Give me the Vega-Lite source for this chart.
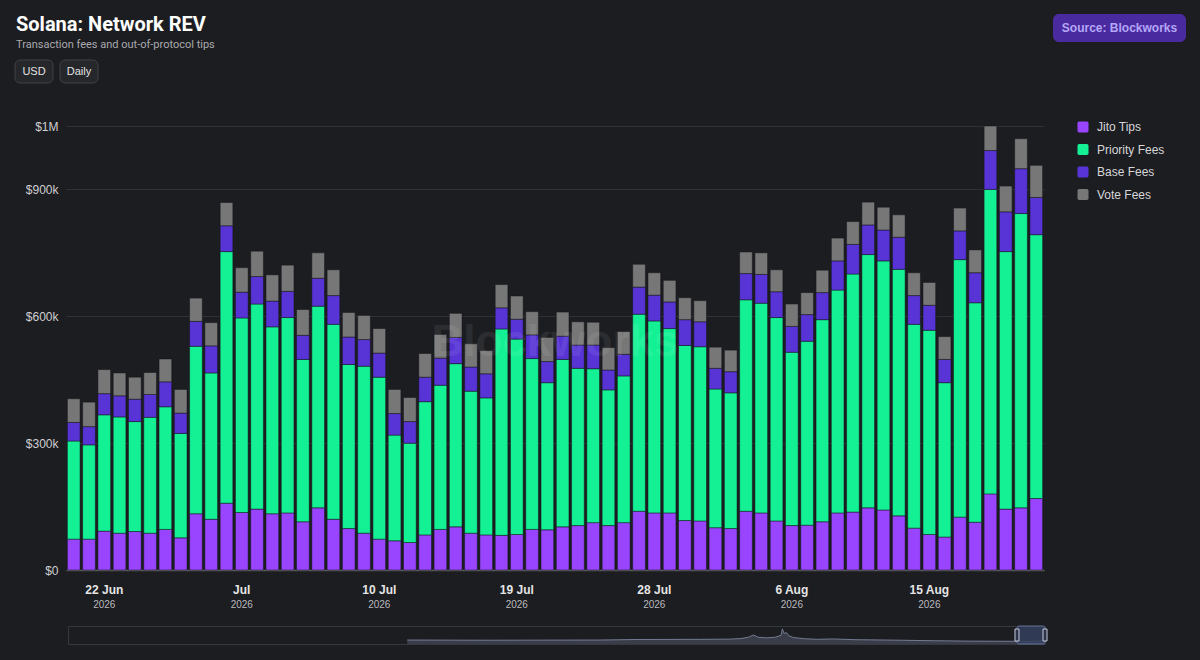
{
  "$schema": "https://vega.github.io/schema/vega-lite/v6.json",
  "background": "#1c1d21",
  "padding": {"left": 14, "top": 14, "right": 20, "bottom": 20},
  "config": {
    "font": "Liberation Sans",
    "view": {"stroke": null},
    "axis": {"labelFont": "Liberation Sans", "titleFont": "Liberation Sans"},
    "legend": {"labelFont": "Liberation Sans"}
  },
  "datasets": {
    "rev": [
      {"day": "2026-06-20", "Jito Tips": 73000, "Priority Fees": 232000, "Base Fees": 44000, "Vote Fees": 56000},
      {"day": "2026-06-21", "Jito Tips": 73000, "Priority Fees": 223000, "Base Fees": 43000, "Vote Fees": 58000},
      {"day": "2026-06-22", "Jito Tips": 92000, "Priority Fees": 275000, "Base Fees": 50000, "Vote Fees": 57000},
      {"day": "2026-06-23", "Jito Tips": 87000, "Priority Fees": 275000, "Base Fees": 50000, "Vote Fees": 54000},
      {"day": "2026-06-24", "Jito Tips": 91000, "Priority Fees": 260000, "Base Fees": 53000, "Vote Fees": 52000},
      {"day": "2026-06-25", "Jito Tips": 87000, "Priority Fees": 274000, "Base Fees": 54000, "Vote Fees": 52000},
      {"day": "2026-06-26", "Jito Tips": 96000, "Priority Fees": 290000, "Base Fees": 59000, "Vote Fees": 54000},
      {"day": "2026-06-27", "Jito Tips": 76000, "Priority Fees": 247000, "Base Fees": 48000, "Vote Fees": 56000},
      {"day": "2026-06-28", "Jito Tips": 133000, "Priority Fees": 396000, "Base Fees": 59000, "Vote Fees": 55000},
      {"day": "2026-06-29", "Jito Tips": 120000, "Priority Fees": 346000, "Base Fees": 64000, "Vote Fees": 55000},
      {"day": "2026-06-30", "Jito Tips": 158000, "Priority Fees": 595000, "Base Fees": 61000, "Vote Fees": 55000},
      {"day": "2026-07-01", "Jito Tips": 136000, "Priority Fees": 460000, "Base Fees": 61000, "Vote Fees": 58000},
      {"day": "2026-07-02", "Jito Tips": 144000, "Priority Fees": 485000, "Base Fees": 65000, "Vote Fees": 60000},
      {"day": "2026-07-03", "Jito Tips": 133000, "Priority Fees": 442000, "Base Fees": 61000, "Vote Fees": 62000},
      {"day": "2026-07-04", "Jito Tips": 135000, "Priority Fees": 462000, "Base Fees": 62000, "Vote Fees": 62000},
      {"day": "2026-07-05", "Jito Tips": 114000, "Priority Fees": 384000, "Base Fees": 57000, "Vote Fees": 61000},
      {"day": "2026-07-06", "Jito Tips": 147000, "Priority Fees": 477000, "Base Fees": 66000, "Vote Fees": 60000},
      {"day": "2026-07-07", "Jito Tips": 120000, "Priority Fees": 461000, "Base Fees": 68000, "Vote Fees": 61000},
      {"day": "2026-07-08", "Jito Tips": 98000, "Priority Fees": 388000, "Base Fees": 65000, "Vote Fees": 58000},
      {"day": "2026-07-09", "Jito Tips": 87000, "Priority Fees": 395000, "Base Fees": 63000, "Vote Fees": 57000},
      {"day": "2026-07-10", "Jito Tips": 73000, "Priority Fees": 383000, "Base Fees": 57000, "Vote Fees": 58000},
      {"day": "2026-07-11", "Jito Tips": 69000, "Priority Fees": 250000, "Base Fees": 51000, "Vote Fees": 57000},
      {"day": "2026-07-12", "Jito Tips": 65000, "Priority Fees": 235000, "Base Fees": 51000, "Vote Fees": 57000},
      {"day": "2026-07-13", "Jito Tips": 83000, "Priority Fees": 315000, "Base Fees": 58000, "Vote Fees": 56000},
      {"day": "2026-07-14", "Jito Tips": 96000, "Priority Fees": 341000, "Base Fees": 64000, "Vote Fees": 56000},
      {"day": "2026-07-15", "Jito Tips": 102000, "Priority Fees": 386000, "Base Fees": 62000, "Vote Fees": 57000},
      {"day": "2026-07-16", "Jito Tips": 87000, "Priority Fees": 336000, "Base Fees": 57000, "Vote Fees": 55000},
      {"day": "2026-07-17", "Jito Tips": 83000, "Priority Fees": 324000, "Base Fees": 57000, "Vote Fees": 55000},
      {"day": "2026-07-18", "Jito Tips": 82000, "Priority Fees": 488000, "Base Fees": 50000, "Vote Fees": 55000},
      {"day": "2026-07-19", "Jito Tips": 84000, "Priority Fees": 462000, "Base Fees": 47000, "Vote Fees": 55000},
      {"day": "2026-07-20", "Jito Tips": 96000, "Priority Fees": 404000, "Base Fees": 56000, "Vote Fees": 55000},
      {"day": "2026-07-21", "Jito Tips": 95000, "Priority Fees": 348000, "Base Fees": 50000, "Vote Fees": 57000},
      {"day": "2026-07-22", "Jito Tips": 102000, "Priority Fees": 396000, "Base Fees": 55000, "Vote Fees": 57000},
      {"day": "2026-07-23", "Jito Tips": 105000, "Priority Fees": 372000, "Base Fees": 55000, "Vote Fees": 55000},
      {"day": "2026-07-24", "Jito Tips": 112000, "Priority Fees": 364000, "Base Fees": 56000, "Vote Fees": 54000},
      {"day": "2026-07-25", "Jito Tips": 105000, "Priority Fees": 321000, "Base Fees": 47000, "Vote Fees": 53000},
      {"day": "2026-07-26", "Jito Tips": 112000, "Priority Fees": 347000, "Base Fees": 51000, "Vote Fees": 54000},
      {"day": "2026-07-27", "Jito Tips": 139000, "Priority Fees": 466000, "Base Fees": 64000, "Vote Fees": 54000},
      {"day": "2026-07-28", "Jito Tips": 135000, "Priority Fees": 454000, "Base Fees": 61000, "Vote Fees": 53000},
      {"day": "2026-07-29", "Jito Tips": 135000, "Priority Fees": 436000, "Base Fees": 63000, "Vote Fees": 51000},
      {"day": "2026-07-30", "Jito Tips": 117000, "Priority Fees": 414000, "Base Fees": 61000, "Vote Fees": 52000},
      {"day": "2026-07-31", "Jito Tips": 116000, "Priority Fees": 412000, "Base Fees": 59000, "Vote Fees": 50000},
      {"day": "2026-08-01", "Jito Tips": 100000, "Priority Fees": 328000, "Base Fees": 49000, "Vote Fees": 50000},
      {"day": "2026-08-02", "Jito Tips": 98000, "Priority Fees": 321000, "Base Fees": 50000, "Vote Fees": 51000},
      {"day": "2026-08-03", "Jito Tips": 139000, "Priority Fees": 500000, "Base Fees": 62000, "Vote Fees": 51000},
      {"day": "2026-08-04", "Jito Tips": 135000, "Priority Fees": 496000, "Base Fees": 68000, "Vote Fees": 51000},
      {"day": "2026-08-05", "Jito Tips": 116000, "Priority Fees": 481000, "Base Fees": 61000, "Vote Fees": 52000},
      {"day": "2026-08-06", "Jito Tips": 105000, "Priority Fees": 410000, "Base Fees": 61000, "Vote Fees": 53000},
      {"day": "2026-08-07", "Jito Tips": 106000, "Priority Fees": 435000, "Base Fees": 63000, "Vote Fees": 52000},
      {"day": "2026-08-08", "Jito Tips": 114000, "Priority Fees": 478000, "Base Fees": 64000, "Vote Fees": 53000},
      {"day": "2026-08-09", "Jito Tips": 135000, "Priority Fees": 527000, "Base Fees": 69000, "Vote Fees": 54000},
      {"day": "2026-08-10", "Jito Tips": 137000, "Priority Fees": 563000, "Base Fees": 70000, "Vote Fees": 54000},
      {"day": "2026-08-11", "Jito Tips": 147000, "Priority Fees": 599000, "Base Fees": 70000, "Vote Fees": 54000},
      {"day": "2026-08-12", "Jito Tips": 142000, "Priority Fees": 589000, "Base Fees": 73000, "Vote Fees": 54000},
      {"day": "2026-08-13", "Jito Tips": 128000, "Priority Fees": 583000, "Base Fees": 76000, "Vote Fees": 53000},
      {"day": "2026-08-14", "Jito Tips": 99000, "Priority Fees": 482000, "Base Fees": 68000, "Vote Fees": 54000},
      {"day": "2026-08-15", "Jito Tips": 84000, "Priority Fees": 483000, "Base Fees": 59000, "Vote Fees": 54000},
      {"day": "2026-08-16", "Jito Tips": 78000, "Priority Fees": 365000, "Base Fees": 55000, "Vote Fees": 54000},
      {"day": "2026-08-17", "Jito Tips": 125000, "Priority Fees": 609000, "Base Fees": 68000, "Vote Fees": 54000},
      {"day": "2026-08-18", "Jito Tips": 113000, "Priority Fees": 519000, "Base Fees": 71000, "Vote Fees": 54000},
      {"day": "2026-08-19", "Jito Tips": 180000, "Priority Fees": 720000, "Base Fees": 92000, "Vote Fees": 58000},
      {"day": "2026-08-20", "Jito Tips": 144000, "Priority Fees": 609000, "Base Fees": 94000, "Vote Fees": 61000},
      {"day": "2026-08-21", "Jito Tips": 147000, "Priority Fees": 696000, "Base Fees": 106000, "Vote Fees": 71000},
      {"day": "2026-08-22", "Jito Tips": 169000, "Priority Fees": 624000, "Base Fees": 88000, "Vote Fees": 76000}
    ],
    "order": [
      {"series": "Jito Tips", "pos": 1},
      {"series": "Priority Fees", "pos": 2},
      {"series": "Base Fees", "pos": 3},
      {"series": "Vote Fees", "pos": 4}
    ],
    "nav": [
      {"date": "2022-08-27", "rev": 1.1},
      {"date": "2023-03-01", "rev": 1.05},
      {"date": "2023-11-11", "rev": 1.1},
      {"date": "2024-02-01", "rev": 1.25},
      {"date": "2024-06-27", "rev": 1.3},
      {"date": "2024-09-01", "rev": 1.35},
      {"date": "2024-09-26", "rev": 1.5},
      {"date": "2024-10-15", "rev": 1.9},
      {"date": "2024-10-26", "rev": 2.5},
      {"date": "2024-11-05", "rev": 1.9},
      {"date": "2024-11-25", "rev": 1.7},
      {"date": "2024-12-15", "rev": 1.9},
      {"date": "2024-12-28", "rev": 2.4},
      {"date": "2024-12-31", "rev": 4.2},
      {"date": "2025-01-04", "rev": 2.9},
      {"date": "2025-01-09", "rev": 3.2},
      {"date": "2025-01-15", "rev": 2.3},
      {"date": "2025-01-25", "rev": 1.8},
      {"date": "2025-02-20", "rev": 1.45},
      {"date": "2025-03-21", "rev": 1.3},
      {"date": "2025-04-27", "rev": 1.4},
      {"date": "2025-06-15", "rev": 1.2},
      {"date": "2025-09-27", "rev": 1.05},
      {"date": "2025-12-15", "rev": 0.9},
      {"date": "2026-03-01", "rev": 0.8},
      {"date": "2026-06-20", "rev": 0.75},
      {"date": "2026-07-25", "rev": 0.7},
      {"date": "2026-08-22", "rev": 0.95}
    ],
    "window": [
      {"start": "2026-06-20", "end": "2026-08-23"}
    ]
  },
  "spacing": 16,
  "resolve": {"scale": {"color": "independent"}, "legend": {"color": "independent"}},
  "vconcat": [
    {
      "spacing": 36,
      "resolve": {"scale": {"color": "independent"}, "legend": {"color": "independent"}},
      "vconcat": [
        {
          "spacing": 9,
          "vconcat": [
            {
              "spacing": 7,
              "align": "each",
              "hconcat": [
                {
                  "width": 1031,
                  "height": 28,
                  "title": {
                    "text": "Solana: Network REV",
                    "subtitle": "Transaction fees and out-of-protocol tips",
                    "anchor": "start",
                    "frame": "group",
                    "offset": -36,
                    "dx": 1,
                    "font": "Roboto",
                    "fontSize": 20,
                    "fontWeight": "bold",
                    "color": "#ffffff",
                    "subtitleFont": "Roboto",
                    "subtitleFontSize": 11,
                    "subtitleColor": "#a9a9ad",
                    "subtitlePadding": 4
                  },
                  "data": {"values": []},
                  "mark": "point"
                },
                {
                  "width": 133,
                  "height": 28,
                  "view": {"fill": "#4a2b9f", "stroke": null, "cornerRadius": 6},
                  "data": {"values": [{"t": "Source: Blockworks"}]},
                  "mark": {"type": "text", "fontSize": 12, "fontWeight": "bold", "color": "#b4a6f8"},
                  "encoding": {"text": {"field": "t"}}
                }
              ]
            },
            {
              "width": 83,
              "height": 23,
              "data": {"values": [{"b": "USD"}, {"b": "Daily"}]},
              "encoding": {
                "x": {"field": "b", "type": "nominal", "sort": null, "scale": {"paddingInner": 0.156, "paddingOuter": 0}, "axis": null}
              },
              "layer": [
                {"mark": {"type": "bar", "color": "#26272b", "stroke": "#404146", "strokeWidth": 1, "cornerRadius": 5}},
                {"mark": {"type": "text", "fontSize": 11, "color": "#e2e2e2"}, "encoding": {"text": {"field": "b"}}}
              ]
            }
          ]
        },
        {
          "spacing": 0,
          "align": "each",
          "resolve": {"scale": {"color": "independent"}, "legend": {"color": "independent"}},
          "hconcat": [
            {"width": 1, "height": 444, "data": {"values": []}, "mark": "point"},
            {
              "width": 978,
              "height": 444,
              "data": {"name": "rev"},
              "layer": [
                {
                  "transform": [
                    {"fold": ["Jito Tips", "Priority Fees", "Base Fees", "Vote Fees"], "as": ["series", "value"]},
                    {"lookup": "series", "from": {"data": {"name": "order"}, "key": "series", "fields": ["pos"]}}
                  ],
                  "mark": {"type": "bar", "stroke": "#16161a", "strokeWidth": 0.5},
                  "encoding": {
                    "x": {
                      "field": "day",
                      "type": "ordinal",
                      "scale": {"paddingInner": 0.17, "paddingOuter": 0.09},
                      "axis": {
                        "orient": "bottom",
                        "title": null,
                        "values": ["2026-06-22", "2026-07-01", "2026-07-10", "2026-07-19", "2026-07-28", "2026-08-06", "2026-08-15"],
                        "labelExpr": "utcFormat(toDate(datum.value), '%d') == '01' ? utcFormat(toDate(datum.value), '%b') : utcFormat(toDate(datum.value), '%-d %b')",
                        "labelAngle": 0,
                        "labelFontWeight": "bold",
                        "labelFontSize": 12,
                        "labelColor": "#e4e4e4",
                        "labelPadding": 14,
                        "ticks": false,
                        "grid": false,
                        "domainColor": "#5c5c61",
                        "domainWidth": 1.5
                      }
                    },
                    "y": {
                      "field": "value",
                      "type": "quantitative",
                      "stack": "zero",
                      "scale": {"domain": [0, 1050000], "nice": false},
                      "axis": {
                        "title": null,
                        "values": [0, 300000, 600000, 900000, 1050000],
                        "labelExpr": "datum.value == 0 ? '$0' : datum.value >= 1000000 ? '$' + format(datum.value / 1000000, '.0f') + 'M' : '$' + format(datum.value / 1000, 'd') + 'k'",
                        "labelFontSize": 12,
                        "labelColor": "#cfcfd2",
                        "labelPadding": 8,
                        "minExtent": 50,
                        "maxExtent": 50,
                        "domain": false,
                        "ticks": false,
                        "gridColor": "#303136",
                        "gridWidth": 1
                      }
                    },
                    "color": {
                      "field": "series",
                      "type": "nominal",
                      "scale": {
                        "domain": ["Jito Tips", "Priority Fees", "Base Fees", "Vote Fees"],
                        "range": ["#9945ff", "#14f195", "#5834d6", "#777777"]
                      },
                      "legend": {
                        "title": null,
                        "orient": "none",
                        "legendX": 1011,
                        "legendY": -5,
                        "padding": 0,
                        "symbolType": "M-0.7,-1H0.7Q1,-1,1,-0.7V0.7Q1,1,0.7,1H-0.7Q-1,1,-1,0.7V-0.7Q-1,-1,-0.7,-1Z",
                        "symbolSize": 121,
                        "symbolStrokeWidth": 0,
                        "symbolOpacity": 1,
                        "labelFontSize": 12,
                        "labelColor": "#d6d6d8",
                        "labelOffset": 8,
                        "rowPadding": 10.5
                      }
                    },
                    "order": {"field": "pos", "type": "quantitative"}
                  }
                },
                {
                  "mark": {"type": "tick", "opacity": 0},
                  "encoding": {
                    "x": {
                      "field": "day",
                      "type": "ordinal",
                      "axis": {
                        "orient": "bottom",
                        "title": null,
                        "values": ["2026-06-22", "2026-07-01", "2026-07-10", "2026-07-19", "2026-07-28", "2026-08-06", "2026-08-15"],
                        "labelExpr": "utcFormat(toDate(datum.value), '%Y')",
                        "labelAngle": 0,
                        "labelFontSize": 10,
                        "labelColor": "#b9b9bd",
                        "labelPadding": 29,
                        "ticks": false,
                        "domain": false,
                        "grid": false
                      }
                    }
                  }
                },
                {
                  "data": {"values": [{"wm": "Blockworks"}]},
                  "mark": {"type": "text", "fontSize": 44, "fontWeight": "bold", "color": "#ffffff", "opacity": 0.07, "dy": -5},
                  "encoding": {"text": {"field": "wm"}}
                }
              ],
              "resolve": {"axis": {"x": "independent"}}
            }
          ]
        }
      ]
    },
    {
      "spacing": 7,
      "align": "each",
      "hconcat": [
        {"width": 45, "height": 18, "data": {"values": []}, "mark": "point"},
        {
          "width": 977,
          "height": 18,
          "view": {"stroke": "#37383d", "strokeWidth": 1},
          "layer": [
            {
              "data": {"name": "nav"},
              "mark": {"type": "area", "color": "#464b5d", "line": {"color": "#747b91", "strokeWidth": 1}},
              "encoding": {
                "x": {
                  "field": "date",
                  "type": "temporal",
                  "scale": {"type": "utc", "domain": [{"year": 2020, "month": 7, "date": 13, "utc": true}, {"year": 2026, "month": 8, "date": 23, "utc": true}]},
                  "axis": null
                },
                "y": {"field": "rev", "type": "quantitative", "scale": {"domain": [0, 5], "nice": false}, "axis": null}
              }
            },
            {
              "data": {"name": "window"},
              "mark": {"type": "rect", "color": "#34405e", "opacity": 0.85, "stroke": "#6d7ca6", "strokeWidth": 1, "cornerRadius": 2},
              "encoding": {
                "x": {"field": "start", "type": "temporal"},
                "x2": {"field": "end"}
              }
            },
            {
              "data": {"name": "window"},
              "mark": {"type": "tick", "thickness": 4, "size": 12, "color": "#2c3348", "stroke": "#c3c9da", "strokeWidth": 1, "opacity": 1},
              "encoding": {"x": {"field": "start", "type": "temporal"}}
            },
            {
              "data": {"name": "window"},
              "mark": {"type": "tick", "thickness": 4, "size": 12, "color": "#2c3348", "stroke": "#c3c9da", "strokeWidth": 1, "opacity": 1},
              "encoding": {"x": {"field": "end", "type": "temporal"}}
            }
          ]
        }
      ]
    }
  ]
}
